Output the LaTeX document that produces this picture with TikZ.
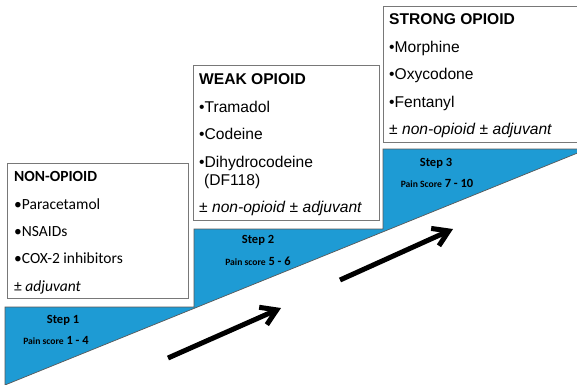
\documentclass[tikz,border=0pt]{standalone}
\usepackage{fontspec}
\setmainfont{Liberation Sans}
\newfontfamily\calibrifont{Carlito}
\usetikzlibrary{arrows.meta}
\definecolor{stepblue}{RGB}{30,155,212}
\definecolor{boxgray}{RGB}{120,120,120}
\begin{document}
\begin{tikzpicture}[x=1pt,y=-1pt,
  box/.style={draw=boxgray,line width=1pt,fill=white,anchor=north west,inner sep=0pt},
  calitem/.style={anchor=base west,inner sep=0pt,font=\calibrifont\fontsize{15.5}{18}\selectfont},
  arialitem/.style={anchor=base west,inner sep=0pt,font=\fontsize{15.6}{18}\selectfont},
  steplabel/.style={anchor=base,inner sep=0pt,font=\calibrifont\bfseries\fontsize{12.5}{14}\selectfont},
  bigarrow/.style={line width=5pt,-{Straight Barb[length=15pt,width=19pt]}}
]
\clip (0,0) rectangle (577,384);
\fill[white] (0,0) rectangle (577,384);
% staircase
\draw[fill=stepblue,draw=black!65,line width=0.7pt]
  (5,307) -- (194,307) -- (194,229) -- (383,229) -- (383,149) -- (580,149) -- (580,152) -- (5,385) -- cycle;
% boxes
\node[box,minimum width=181pt,minimum height=135pt] (b1) at (7,163) {};
\node[box,minimum width=186pt,minimum height=155pt] (b2) at (193,65) {};
\node[box,minimum width=210pt,minimum height=136pt] (b3) at (383,6) {};
% box 1 text
\node[calitem,font=\calibrifont\bfseries\fontsize{15.5}{18}\selectfont] (t1a) at (14,181) {NON-OPIOID};
\node[calitem] (t1b) at (14,209) {•Paracetamol};
\node[calitem] (t1c) at (14,236) {•NSAIDs};
\node[calitem] (t1d) at (14,263) {•COX-2 inhibitors};
\node[calitem] (t1e) at (14,291) {± \textit{adjuvant}};
% box 2 text
\node[arialitem,font=\bfseries\fontsize{15.6}{18}\selectfont] (t2a) at (199,84) {WEAK OPIOID};
\node[arialitem] (t2b) at (199,112) {•Tramadol};
\node[arialitem] (t2c) at (199,139) {•Codeine};
\node[arialitem] (t2d) at (199,167) {•Dihydrocodeine};
\node[arialitem] (t2e) at (204,185) {(DF118)};
\node[arialitem] (t2f) at (199,212) {± \textit{non-opioid} ± \textit{adjuvant}};
% box 3 text
\node[arialitem,font=\bfseries\fontsize{15.6}{18}\selectfont] (t3a) at (389,24) {STRONG OPIOID};
\node[arialitem] (t3b) at (389,52) {•Morphine};
\node[arialitem] (t3c) at (389,79) {•Oxycodone};
\node[arialitem] (t3d) at (389,107) {•Fentanyl};
\node[arialitem] (t3e) at (389,134) {± \textit{non-opioid} ± \textit{adjuvant}};
% step labels
\node[steplabel] (s1) at (63,323) {Step 1};
\node[steplabel] (p1) at (56,344) {{\fontsize{9.6}{11}\selectfont Pain score} 1 - 4};
\node[steplabel] (s2) at (258,243) {Step 2};
\node[steplabel] (p2) at (258,265) {{\fontsize{9.6}{11}\selectfont Pain score} 5 - 6};
\node[steplabel] (s3) at (436,166) {Step 3};
\node[steplabel] (p3) at (437,187) {{\fontsize{9.6}{11}\selectfont Pain Score} 7 - 10};
% arrows
\coordinate (a1s) at (168,358);
\coordinate (a1e) at (281,308);
\coordinate (a2s) at (340,280);
\coordinate (a2e) at (453,229);
\draw[bigarrow] (a1s) -- (a1e);
\draw[bigarrow] (a2s) -- (a2e);
\end{tikzpicture}
\end{document}
